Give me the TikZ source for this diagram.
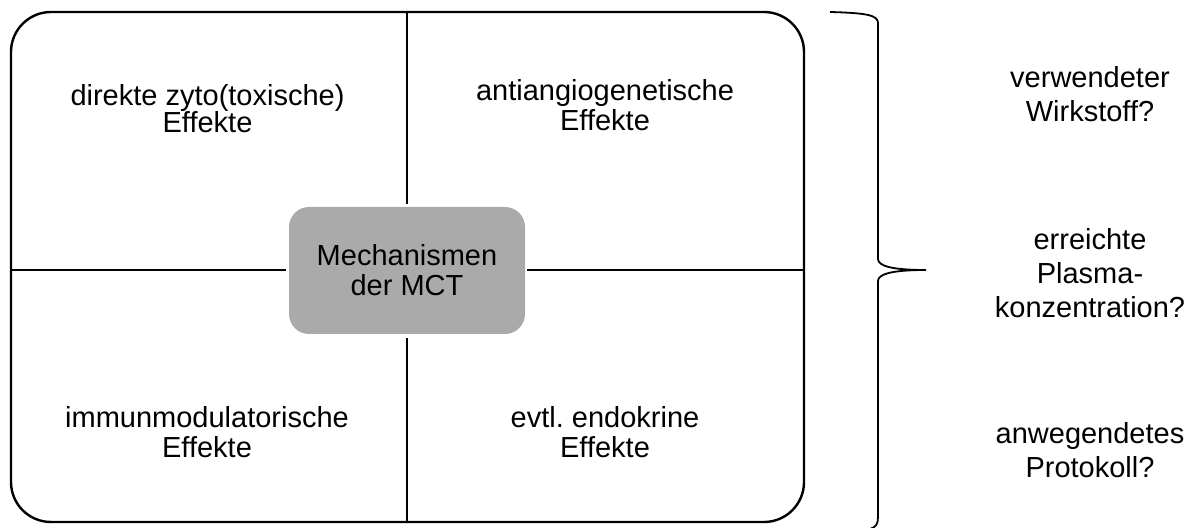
\documentclass[tikz,border=0pt]{standalone}
\usepackage{fontspec}
\setmainfont{Liberation Sans}
\frenchspacing
\definecolor{mctgray}{RGB}{170,170,170}
\tikzset{
  lbl/.style={align=center, anchor=base, inner sep=0pt, font=\fontsize{14.5pt}{15pt}\selectfont},
  qlbl/.style={align=center, anchor=base, inner sep=0pt, font=\fontsize{14.5pt}{17pt}\selectfont},
  framebox/.style={draw, line width=1.2pt, rounded corners=20pt, minimum width=396.5pt, minimum height=255pt, inner sep=0pt},
  mctbox/.style={fill=mctgray, rounded corners=10pt, minimum width=118pt, minimum height=63.5pt, inner sep=0pt, align=center, font=\fontsize{14.5pt}{15pt}\selectfont},
  divider/.style={line width=1pt},
  bracepath/.style={line width=0.9pt}
}
\begin{document}
\begin{tikzpicture}[x=0.5pt,y=-0.5pt]
\useasboundingbox (0,0) rectangle (1192,528);
\node[framebox] (frame) at (407.5,267) {};
\node[mctbox] (mct) at (407,270.5) {Mechanismen\\der MCT};
\draw[divider, shorten >=1.5pt] (frame.north -| mct.north) -- (mct.north);
\draw[divider, shorten >=2pt] (frame.south -| mct.south) -- (mct.south);
\draw[divider, shorten >=1.5pt] (frame.west |- mct.west) -- (mct.west);
\draw[divider, shorten >=1pt] (frame.east |- mct.east) -- (mct.east);
\node[lbl, font=\fontsize{14.5pt}{13.8pt}\selectfont] (tl) at (207.5,133) {direkte zyto(toxische)\\Effekte};
\node[lbl] (tr) at (605,131) {antiangiogenetische\\Effekte};
\node[lbl] (bl) at (207,458) {immunmodulatorische\\Effekte};
\node[lbl] (br) at (605,458) {evtl. endokrine\\Effekte};
\coordinate (tip) at (926,270);
\draw[bracepath] (830,12) .. controls (866,13) and (878,15) .. (878,23) -- (878,259)
  .. controls (878,266) and (892,270) .. (tip)
  .. controls (892,270) and (878,274) .. (878,281) -- (878,517)
  .. controls (878,524) and (876,527) .. (870,529);
\node[qlbl] (q1) at (1090,121.7) {verwendeter\\Wirkstoff?};
\node[qlbl] (q2) at (1090,317.3) {erreichte\\Plasma-\\konzentration?};
\node[qlbl] (q3) at (1090,477.3) {anwegendetes\\Protokoll?};
\end{tikzpicture}
\end{document}
